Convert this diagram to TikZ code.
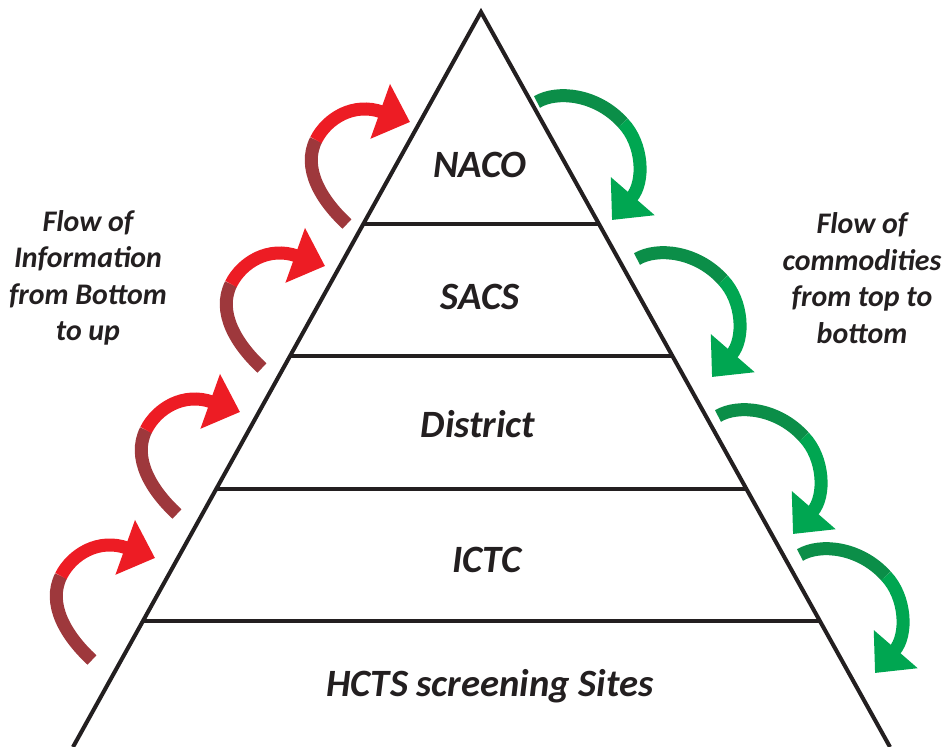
\documentclass[tikz,border=0pt]{standalone}
\usepackage{fontspec}
\setmainfont{Carlito}
\usetikzlibrary{arrows.meta,calc}

\definecolor{pyrline}{RGB}{35,31,32}
\definecolor{upred}{RGB}{237,28,36}
\definecolor{upbrown}{RGB}{158,56,60}
\definecolor{downgreen}{RGB}{0,166,81}
\definecolor{downdark}{RGB}{11,142,72}

\tikzset{
  level/.style={font=\bfseries\itshape\fontsize{22}{26}\selectfont, text=pyrline},
  side/.style={font=\bfseries\itshape\fontsize{17}{20.8}\selectfont, text=pyrline, align=center},
  flow/.style={line width=7.4pt, line cap=butt},
  flowtip/.style={-{Triangle[length=18pt,width=32pt]}}
}

% red/brown arrow, tail at #1
\newcommand{\infoarrow}[1]{%
  \begin{scope}[shift={#1}]
    \draw[flow,upbrown] (0,0) .. controls (-26,-24) and (-45,-56) .. (-31,-84);
    \draw[flow,upred,flowtip] (-31,-84) .. controls (-20,-106) and (7,-122) .. (63,-102);
  \end{scope}}

% green arrow, tail at #1
\newcommand{\goodsarrow}[1]{%
  \begin{scope}[shift={#1}]
    \draw[flow,downdark] (0,0) .. controls (20,-12) and (60,-8) .. (86,21);
    \draw[flow,downgreen,flowtip] (86,21) .. controls (106,42) and (108,80) .. (75,118);
  \end{scope}}

\begin{document}
\begin{tikzpicture}[x=0.02cm,y=-0.02cm]
  \useasboundingbox (0,0) rectangle (944,747);

  % pyramid
  \coordinate (apex) at (481,12);
  \coordinate (bl) at (73,747);
  \coordinate (br) at (890,747);
  \draw[pyrline, line width=2.3pt, line join=miter] (bl) -- (apex) -- (br);
  \foreach \f [count=\i] in {0.2884,0.468,0.649,0.8286} {
    \coordinate (l\i) at ($(apex)!\f!(bl)$);
    \coordinate (r\i) at ($(apex)!\f!(br)$);
    \draw[pyrline, line width=2.3pt] (l\i) -- (r\i);
  }

  \begin{scope}[every node/.style={level}]
    \node (naco)     at (480,165) {NACO};
    \node (sacs)     at (480,297) {SACS};
    \node (district) at (478,424) {District};
    \node (ictc)     at (487,560) {ICTC};
    \node (hcts)     at (490,686) {HCTS screening Sites};
  \end{scope}

  \node[side] (info)  at (88,278)  {Flow of\\Information\\from Bottom\\to up};
  \node[side] (goods) at (862,278) {Flow of\\commodities\\from top to\\bottom};

  % arrows
  \infoarrow{(347,224)}
  \infoarrow{(262,368)}
  \infoarrow{(177,514)}
  \infoarrow{(92,660)}

  \goodsarrow{(537,102)}
  \goodsarrow{(637,259)}
  \goodsarrow{(718,416)}
  \goodsarrow{(800,555)}

\end{tikzpicture}
\end{document}
